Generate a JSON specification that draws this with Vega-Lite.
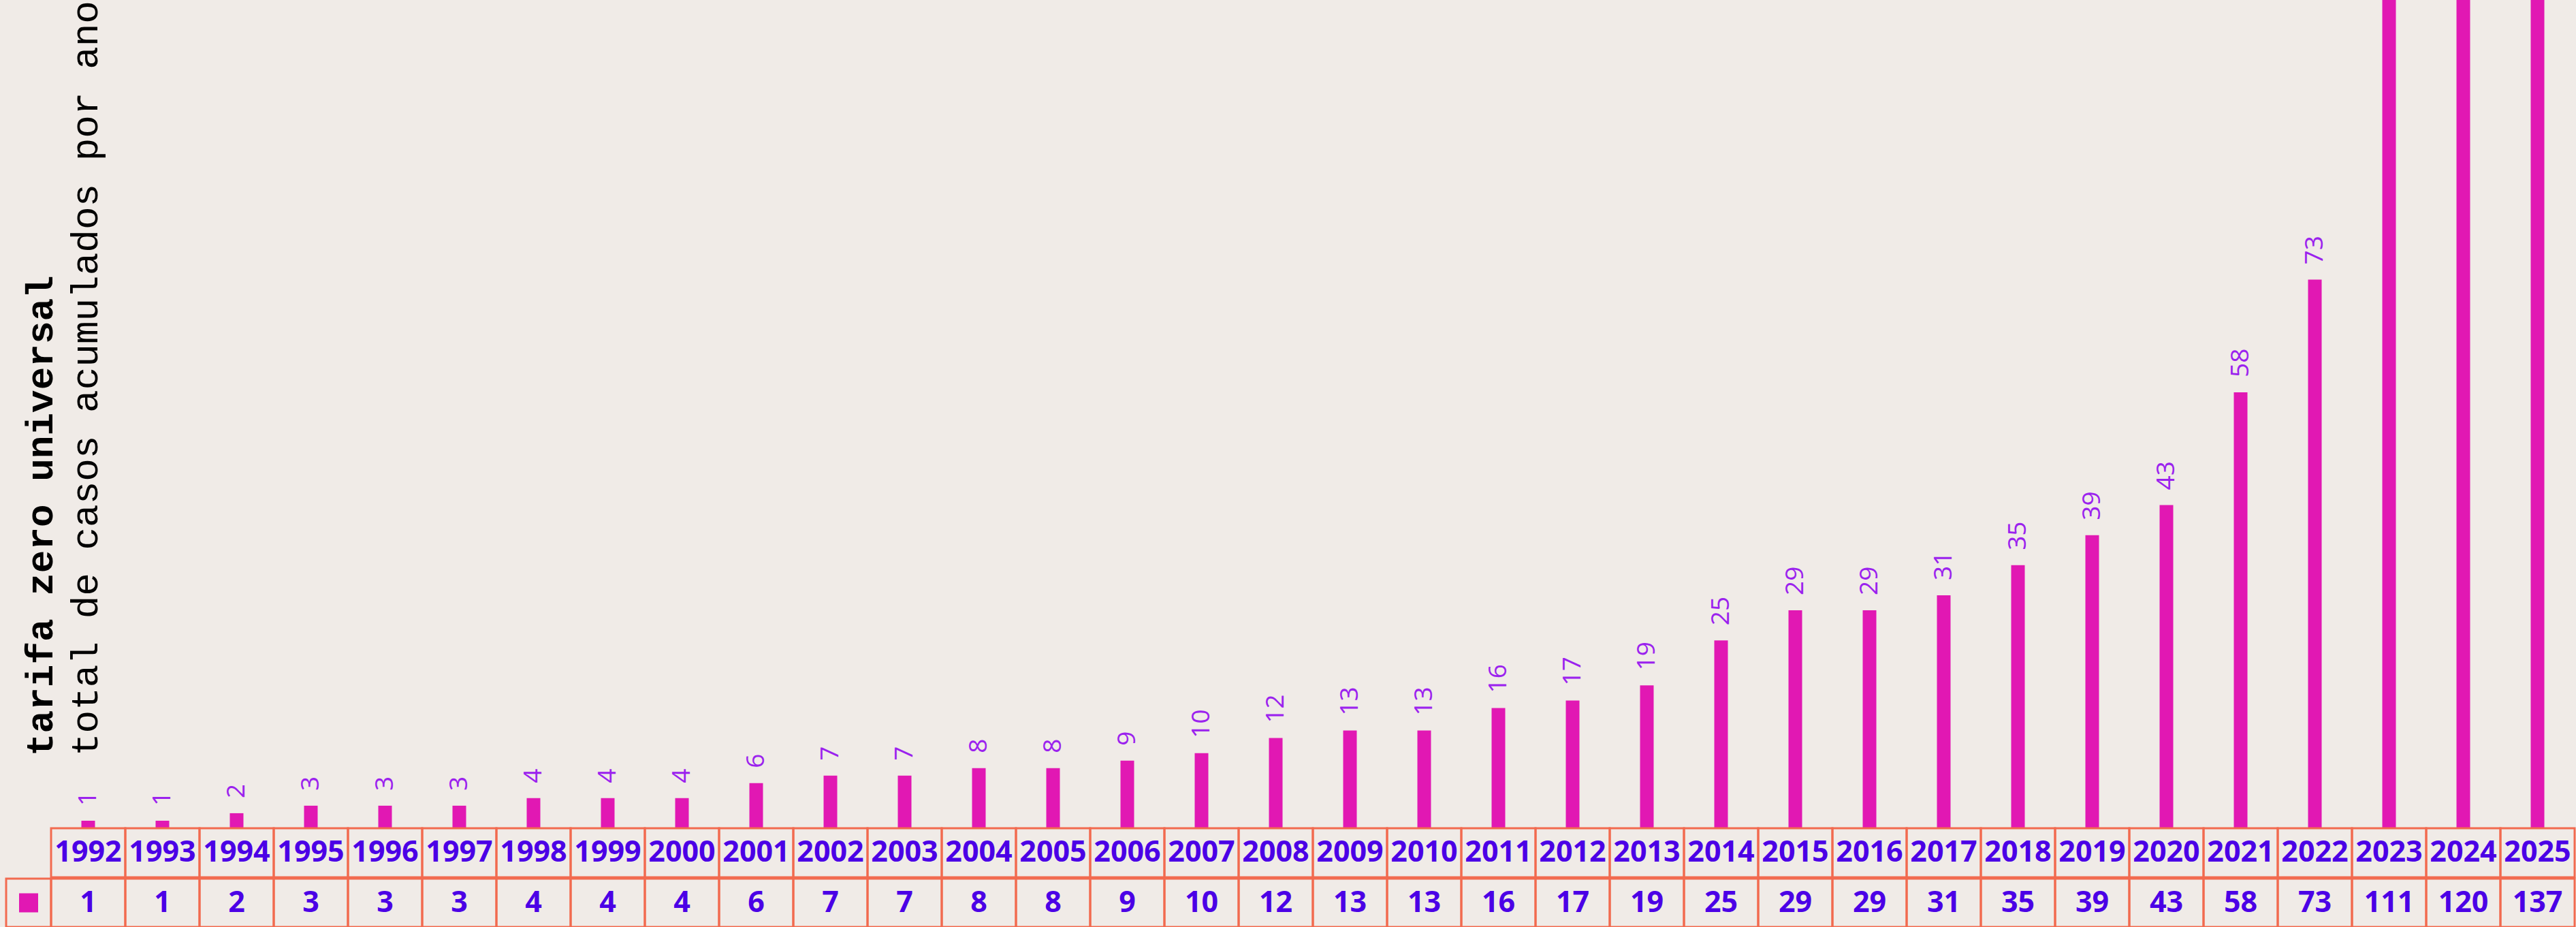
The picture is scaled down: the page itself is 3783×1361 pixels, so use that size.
{
  "$schema": "https://vega.github.io/schema/vega-lite/v6.json",
  "background": "#f0ebe7",
  "padding": {"left": 7, "top": 0, "right": 0, "bottom": 0},
  "config": {"view": {"stroke": null}, "font": "Open Sans"},
  "spacing": -3,
  "bounds": "full",
  "datasets": {
    "d": [
      {"ano": "1992", "casos": 1}, {"ano": "1993", "casos": 1}, {"ano": "1994", "casos": 2},
      {"ano": "1995", "casos": 3}, {"ano": "1996", "casos": 3}, {"ano": "1997", "casos": 3},
      {"ano": "1998", "casos": 4}, {"ano": "1999", "casos": 4}, {"ano": "2000", "casos": 4},
      {"ano": "2001", "casos": 6}, {"ano": "2002", "casos": 7}, {"ano": "2003", "casos": 7},
      {"ano": "2004", "casos": 8}, {"ano": "2005", "casos": 8}, {"ano": "2006", "casos": 9},
      {"ano": "2007", "casos": 10}, {"ano": "2008", "casos": 12}, {"ano": "2009", "casos": 13},
      {"ano": "2010", "casos": 13}, {"ano": "2011", "casos": 16}, {"ano": "2012", "casos": 17},
      {"ano": "2013", "casos": 19}, {"ano": "2014", "casos": 25}, {"ano": "2015", "casos": 29},
      {"ano": "2016", "casos": 29}, {"ano": "2017", "casos": 31}, {"ano": "2018", "casos": 35},
      {"ano": "2019", "casos": 39}, {"ano": "2020", "casos": 43}, {"ano": "2021", "casos": 58},
      {"ano": "2022", "casos": 73}, {"ano": "2023", "casos": 111}, {"ano": "2024", "casos": 120},
      {"ano": "2025", "casos": 137}
    ],
    "leg": [{"serie": "tarifa zero universal"}]
  },
  "vconcat": [
    {
      "spacing": 0,
      "bounds": "flush",
      "hconcat": [
        {"width": 66, "height": 1216, "data": {"values": []}, "mark": "point", "encoding": {}},
        {
          "width": 3706,
          "height": 1216,
          "data": {"name": "d"},
          "title": {
            "text": "tarifa zero universal",
            "subtitle": "total de casos acumulados por ano",
            "orient": "left",
            "anchor": "start",
            "frame": "group",
            "font": "Liberation Mono",
            "fontSize": 56,
            "fontWeight": "bold",
            "color": "#000000",
            "subtitleFont": "Liberation Mono",
            "subtitleFontSize": 56,
            "subtitleFontWeight": "normal",
            "subtitleColor": "#000000",
            "subtitlePadding": 10,
            "offset": -80,
            "dx": 106
          },
          "encoding": {
            "x": {"field": "ano", "type": "ordinal", "axis": null, "sort": null,
                  "scale": {"paddingInner": 0, "paddingOuter": 0}},
            "y": {"field": "casos", "type": "quantitative", "axis": null,
                  "scale": {"domain": [0, 110.2], "nice": false}}
          },
          "layer": [
            {"mark": {"type": "bar", "width": 20, "color": "#e118b3", "clip": true}},
            {"mark": {"type": "text", "angle": 270, "align": "left", "baseline": "middle",
                      "dx": 22, "fontSize": 37, "color": "#9b22ee", "clip": true},
             "encoding": {"text": {"field": "casos", "type": "quantitative"}}}
          ]
        }
      ]
    },
    {
      "spacing": 0,
      "bounds": "flush",
      "hconcat": [
        {"width": 66, "height": 72, "data": {"values": []}, "mark": "point", "encoding": {}},
        {
          "width": 3706,
          "height": 72,
          "data": {"name": "d"},
          "encoding": {
            "x": {"field": "ano", "type": "ordinal", "axis": null, "sort": null,
                  "scale": {"paddingInner": 0, "paddingOuter": 0}}
          },
          "layer": [
            {"mark": {"type": "rect", "fill": null, "fillOpacity": 0, "stroke": "#f26a4f", "strokeWidth": 3}},
            {"mark": {"type": "text", "fontSize": 43, "fontWeight": "bold", "color": "#4b00e6", "baseline": "middle"},
             "encoding": {"text": {"field": "ano", "type": "nominal"}}}
          ]
        }
      ]
    },
    {
      "spacing": 0,
      "bounds": "flush",
      "hconcat": [
        {
          "width": 66,
          "height": 71,
          "data": {"name": "leg"},
          "layer": [
            {"mark": {"type": "rect", "fill": null, "fillOpacity": 0, "stroke": "#f26a4f", "strokeWidth": 3}, "encoding": {}},
            {"mark": {"type": "point", "shape": "square", "filled": true, "size": 784, "opacity": 1},
             "encoding": {"color": {"field": "serie", "type": "nominal", "legend": null,
                                    "scale": {"range": ["#e118b3"]}}}}
          ]
        },
        {
          "width": 3706,
          "height": 71,
          "data": {"name": "d"},
          "encoding": {
            "x": {"field": "ano", "type": "ordinal", "axis": null, "sort": null,
                  "scale": {"paddingInner": 0, "paddingOuter": 0}}
          },
          "layer": [
            {"mark": {"type": "rect", "fill": null, "fillOpacity": 0, "stroke": "#f26a4f", "strokeWidth": 3}},
            {"mark": {"type": "text", "fontSize": 43, "fontWeight": "bold", "color": "#4b00e6", "baseline": "middle"},
             "encoding": {"text": {"field": "casos", "type": "quantitative"}}}
          ]
        }
      ]
    }
  ]
}
